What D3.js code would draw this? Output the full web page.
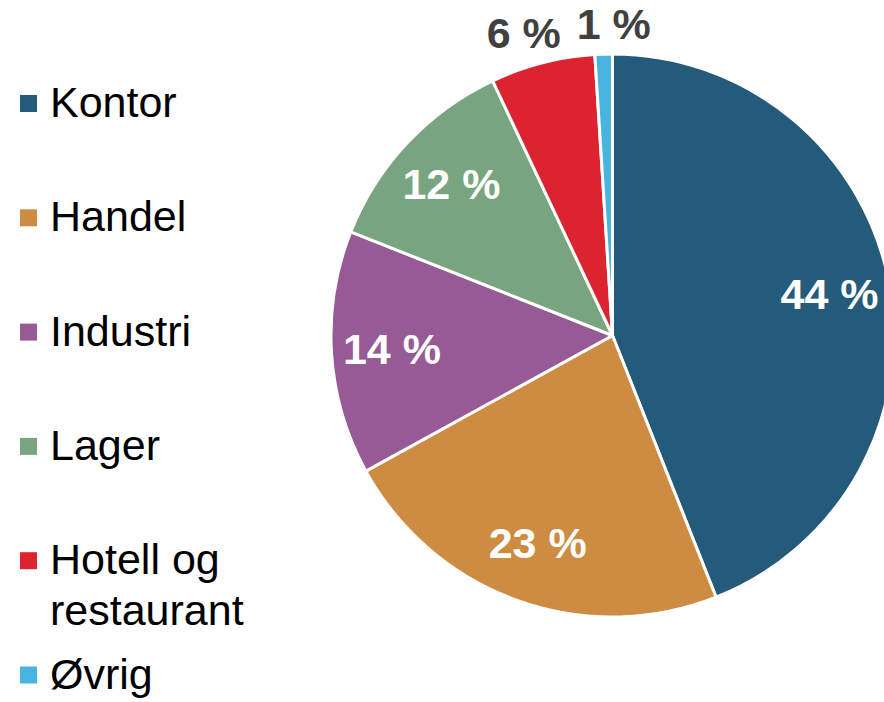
<!DOCTYPE html>
<html>
<head>
<meta charset="utf-8">
<script src="https://cdn.jsdelivr.net/npm/d3@7"></script>
<style>
  body { margin: 0; background: #fff; }
  svg { display: block; font-family: "Liberation Sans", Arial, sans-serif; }
</style>
</head>
<body>
<svg id="chart" width="884" height="702"></svg>
<script>
// data
var categories = ["Kontor", "Handel", "Industri", "Lager", "Hotell og restaurant", "Øvrig"];
var legendLines = [["Kontor"], ["Handel"], ["Industri"], ["Lager"], ["Hotell og", "restaurant"], ["Øvrig"]];
var shares = [44, 23, 14, 12, 6, 1];
var colors = ["#245a7a", "#cd8c42", "#965b94", "#78a57f", "#dc2330", "#4ab4e0"];

var svg = d3.select("#chart");
var cx = 612.5, cy = 335.5, r = 281.5;

var color = d3.scaleOrdinal().domain(categories).range(colors);

var pie = d3.pie().sort(null).value(d => d.value);
var arcs = pie(categories.map((c, i) => ({ name: c, value: shares[i] })));

var arc = d3.arc().innerRadius(0).outerRadius(r);
var labelArc = d3.arc().innerRadius(r * 0.785).outerRadius(r * 0.785);
var outerArc = d3.arc().innerRadius(312).outerRadius(312);

var g = svg.append("g").attr("transform", "translate(" + cx + "," + cy + ")");

g.selectAll("path.slice")
  .data(arcs)
  .join("path")
  .classed("slice", true)
  .attr("d", arc)
  .style("fill", d => color(d.data.name))
  .style("stroke", "#fff")
  .style("stroke-width", "3px")
  .style("stroke-linejoin", "round");

// labels: big slices inside, small ones outside
var inside = arcs.filter(d => d.data.value >= 10);
var outside = arcs.filter(d => d.data.value < 10);

g.selectAll("text.inlabel")
  .data(inside)
  .join("text")
  .classed("inlabel", true)
  .attr("x", d => labelArc.centroid(d)[0])
  .attr("y", d => labelArc.centroid(d)[1])
  .attr("text-anchor", "middle")
  .attr("dominant-baseline", "central")
  .style("fill", "#fff")
  .style("font-weight", "bold")
  .style("font-size", "43px")
  .text(d => d.data.value + " %");

// spread outside labels so they do not overlap
var outPos = outside.map(d => outerArc.centroid(d));
var minGap = 90;
if (outPos.length === 2) {
  var mid = (outPos[0][0] + outPos[1][0]) / 2;
  var sep = Math.abs(outPos[1][0] - outPos[0][0]);
  if (sep < minGap) {
    var left = outPos[0][0] < outPos[1][0] ? 0 : 1;
    outPos[left][0] = mid - minGap / 2;
    outPos[1 - left][0] = mid + minGap / 2;
  }
}

g.selectAll("text.outlabel")
  .data(outside)
  .join("text")
  .classed("outlabel", true)
  .attr("x", (d, i) => outPos[i][0])
  .attr("y", (d, i) => outPos[i][1])
  .attr("text-anchor", "middle")
  .attr("dominant-baseline", "central")
  .style("fill", "#404040")
  .style("font-weight", "bold")
  .style("font-size", "43px")
  .text(d => d.data.value + " %");

// legend
var legend = svg.append("g");
var firstBase = 117, step = 114.3, lineH = 51;
categories.forEach(function(c, i) {
  var base = firstBase + i * step;
  legend.append("rect")
    .attr("x", 20).attr("y", base - 22)
    .attr("width", 17).attr("height", 17)
    .style("fill", color(c));
  var t = legend.append("text")
    .attr("x", 50).attr("y", base)
    .style("font-size", "43px")
    .style("fill", "#000");
  legendLines[i].forEach(function(line, k) {
    t.append("tspan").attr("x", 50).attr("y", base + k * lineH).text(line);
  });
});
</script>
</body>
</html>
